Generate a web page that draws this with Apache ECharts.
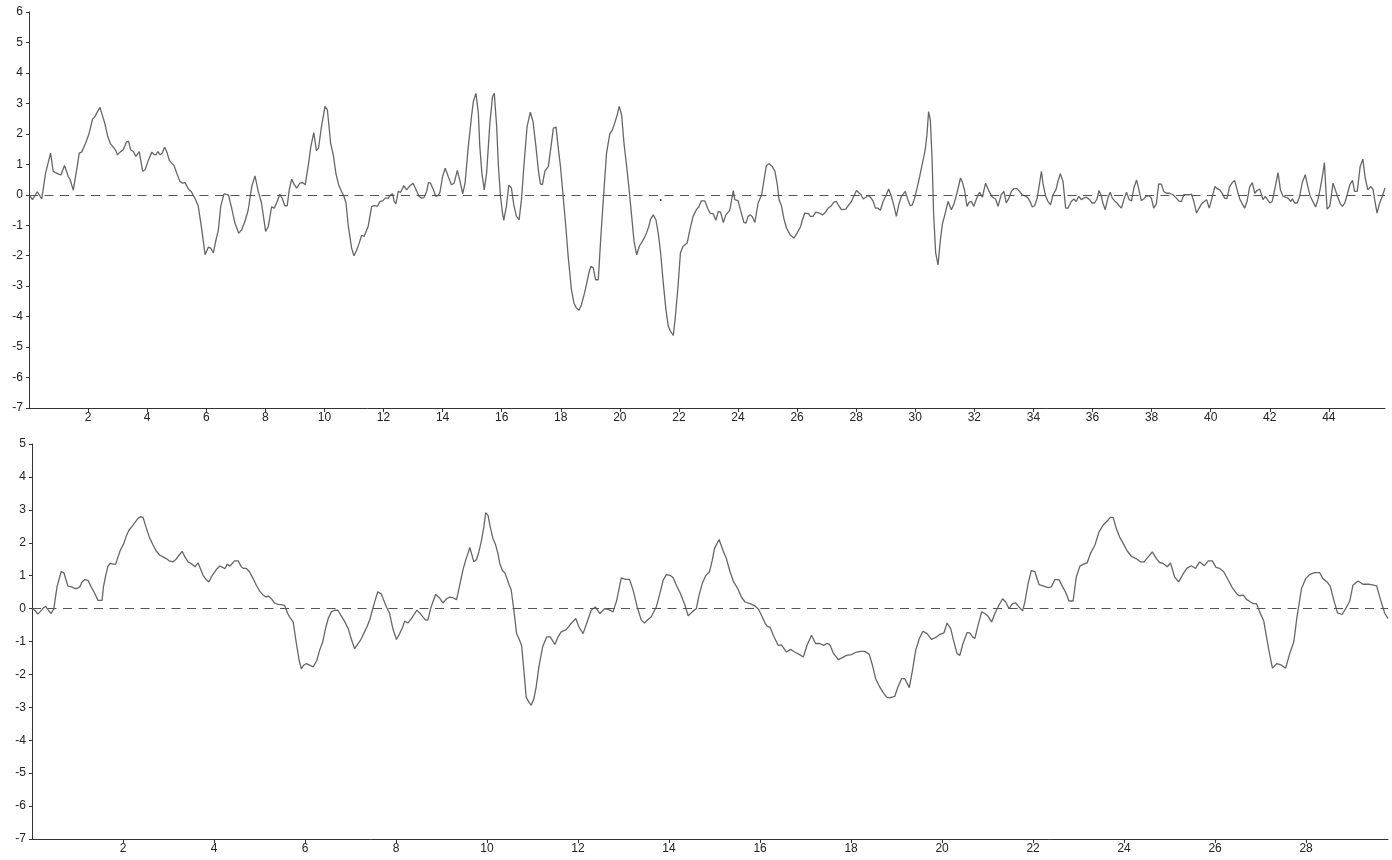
<!DOCTYPE html>
<html>
<head>
<meta charset="utf-8">
<script src="https://cdn.jsdelivr.net/npm/echarts@6/dist/echarts.min.js"></script>
<style>
html,body{margin:0;padding:0;background:#fff;}
#chart{width:1392px;height:860px;}
</style>
</head>
<body>
<div id="chart"></div>
<script>
const topX = [0,0.12,0.28,0.43,0.56,0.73,0.82,1.0,1.08,1.2,1.33,1.39,1.5,1.56,1.65,1.7,1.78,1.84,1.92,2.03,2.15,2.22,2.29,2.4,2.46,2.57,2.66,2.76,2.88,2.94,2.99,3.08,3.19,3.3,3.37,3.44,3.53,3.62,3.73,3.85,3.93,4.04,4.16,4.23,4.3,4.36,4.44,4.51,4.59,4.66,4.75,4.83,4.91,5.0,5.11,5.2,5.28,5.39,5.5,5.56,5.64,5.73,5.85,5.96,6.07,6.15,6.24,6.33,6.41,6.49,6.6,6.75,6.86,6.97,7.1,7.2,7.31,7.42,7.54,7.65,7.76,7.87,8.01,8.1,8.21,8.3,8.38,8.49,8.58,8.66,8.74,8.81,8.89,8.97,9.06,9.17,9.26,9.35,9.45,9.54,9.64,9.73,9.8,9.9,10.02,10.1,10.21,10.3,10.39,10.48,10.58,10.66,10.73,10.81,10.92,11.0,11.09,11.18,11.26,11.34,11.4,11.48,11.6,11.69,11.79,11.88,11.97,12.06,12.16,12.24,12.31,12.36,12.42,12.5,12.58,12.69,12.78,12.87,13.0,13.09,13.2,13.29,13.37,13.46,13.52,13.59,13.68,13.77,13.85,13.91,14.0,14.09,14.19,14.3,14.39,14.5,14.59,14.68,14.76,14.87,14.98,15.04,15.13,15.21,15.26,15.33,15.41,15.49,15.6,15.69,15.75,15.83,15.89,15.96,16.02,16.07,16.16,16.24,16.33,16.41,16.5,16.59,16.67,16.75,16.86,16.97,17.06,17.16,17.24,17.31,17.38,17.46,17.58,17.67,17.75,17.84,17.91,17.99,18.08,18.17,18.25,18.36,18.45,18.53,18.62,18.7,18.79,18.87,18.95,19.02,19.1,19.18,19.27,19.35,19.44,19.55,19.66,19.75,19.83,19.91,19.98,20.06,20.14,20.23,20.32,20.4,20.48,20.57,20.66,20.74,20.81,20.9,20.98,21.04,21.13,21.22,21.3,21.38,21.47,21.56,21.64,21.71,21.81,21.88,21.97,22.05,22.14,22.28,22.37,22.48,22.59,22.67,22.76,22.88,22.97,23.05,23.16,23.25,23.33,23.41,23.5,23.59,23.72,23.84,23.89,24.0,24.08,24.2,24.27,24.34,24.42,24.49,24.57,24.68,24.8,24.88,24.96,25.05,25.16,25.25,25.33,25.39,25.47,25.55,25.64,25.76,25.89,26.0,26.12,26.18,26.26,26.38,26.45,26.54,26.63,26.75,26.86,26.94,27.05,27.16,27.24,27.33,27.41,27.5,27.65,27.73,27.84,27.92,28.01,28.07,28.16,28.24,28.32,28.4,28.48,28.57,28.65,28.74,28.82,28.91,29.02,29.1,29.19,29.27,29.36,29.44,29.53,29.59,29.66,29.75,29.83,29.9,29.98,30.06,30.15,30.23,30.31,30.35,30.4,30.45,30.51,30.57,30.62,30.69,30.77,30.85,30.92,31.0,31.11,31.22,31.31,31.41,31.53,31.6,31.67,31.75,31.82,31.9,31.98,32.07,32.13,32.18,32.27,32.38,32.5,32.61,32.72,32.8,32.91,33.0,33.08,33.17,33.25,33.34,33.44,33.53,33.62,33.74,33.82,33.9,33.96,34.04,34.12,34.19,34.27,34.33,34.41,34.49,34.58,34.66,34.76,34.83,34.91,35.0,35.09,35.17,35.28,35.37,35.45,35.53,35.62,35.7,35.79,35.9,35.98,36.07,36.15,36.22,36.3,36.35,36.43,36.52,36.6,36.67,36.75,36.83,36.9,36.98,37.06,37.15,37.24,37.32,37.4,37.49,37.57,37.65,37.73,37.82,37.91,37.99,38.07,38.16,38.24,38.33,38.41,38.5,38.61,38.72,38.84,38.93,39.01,39.09,39.18,39.27,39.35,39.43,39.52,39.61,39.69,39.78,39.86,39.95,40.03,40.14,40.22,40.31,40.4,40.47,40.55,40.64,40.73,40.81,40.9,40.98,41.07,41.15,41.23,41.32,41.41,41.49,41.57,41.66,41.72,41.77,41.85,41.92,42.0,42.08,42.14,42.2,42.28,42.36,42.45,42.53,42.62,42.7,42.77,42.84,42.93,43.01,43.1,43.2,43.3,43.37,43.46,43.55,43.63,43.71,43.78,43.85,43.89,43.94,44.03,44.08,44.14,44.22,44.31,44.39,44.46,44.54,44.62,44.71,44.8,44.87,44.96,45.06,45.15,45.23,45.32,45.41,45.49,45.55,45.63,45.72,45.81,45.9];
const topY = [0,-0.16,0.1,-0.14,0.7,1.37,0.77,0.68,0.65,0.96,0.6,0.5,0.15,0.14,1.04,1.37,1.4,1.37,1.7,2.0,2.48,2.55,2.68,2.87,2.68,2.33,1.93,1.67,1.53,1.45,1.31,1.4,1.48,1.73,1.75,1.48,1.42,1.26,1.42,0.77,0.82,1.13,1.4,1.33,1.31,1.42,1.31,1.37,1.56,1.42,1.13,1.04,0.96,0.71,0.44,0.38,0.4,0.2,0.09,0.09,-0.16,-0.38,-1.15,-1.97,-1.72,-1.75,-1.91,-1.48,-1.15,-0.38,0.03,0,-0.44,-0.93,-1.26,-1.15,-0.87,-0.5,0.27,0.62,0.11,-0.27,-1.2,-1.04,-0.4,-0.44,-0.27,0.02,-0.14,-0.36,-0.36,0.16,0.51,0.35,0.22,0.38,0.4,0.33,0.93,1.58,2.04,1.45,1.53,2.24,2.9,2.79,1.69,1.31,0.69,0.33,0.11,-0.05,-0.27,-1.04,-1.75,-2.0,-1.82,-1.58,-1.33,-1.37,-1.39,-1.04,-0.38,-0.36,-0.38,-0.22,-0.2,-0.11,-0.11,0,0.03,-0.22,-0.3,0.11,0.08,0.3,0.16,0.27,0.38,0.19,-0.05,-0.11,-0.09,0.11,0.4,0.38,0.19,-0.05,-0.02,0.08,0.6,0.87,0.6,0.33,0.38,0.8,0.44,0.03,0.38,1.58,2.57,3.06,3.33,2.68,1.58,0.71,0.16,0.71,2.35,3.22,3.33,2.24,0.93,-0.05,-0.55,-0.84,-0.38,0.31,0.22,-0.33,-0.71,-0.82,-0.16,0.93,2.24,2.71,2.4,1.58,0.82,0.36,0.33,0.77,0.93,1.58,2.19,2.22,1.58,0.93,-0.05,-1.04,-2.02,-3.11,-3.57,-3.72,-3.79,-3.61,-3.28,-2.95,-2.57,-2.35,-2.4,-2.79,-2.79,-1.48,-0.16,1.37,2.0,2.13,2.37,2.62,2.9,2.62,1.69,0.93,0.11,-0.71,-1.53,-1.97,-1.69,-1.56,-1.45,-1.26,-1.04,-0.8,-0.66,-0.82,-1.26,-1.91,-2.9,-3.77,-4.32,-4.48,-4.62,-3.99,-3.0,-1.91,-1.69,-1.58,-1.15,-0.71,-0.49,-0.4,-0.2,-0.2,-0.44,-0.6,-0.62,-0.84,-0.55,-0.57,-0.91,-0.66,-0.51,0.14,-0.16,-0.19,-0.49,-0.91,-0.93,-0.71,-0.66,-0.73,-0.91,-0.27,0,0.49,0.96,1.02,0.93,0.77,0.33,-0.16,-0.36,-0.77,-1.09,-1.31,-1.42,-1.26,-1.04,-0.82,-0.6,-0.62,-0.71,-0.71,-0.57,-0.6,-0.66,-0.6,-0.44,-0.36,-0.25,-0.22,-0.36,-0.49,-0.47,-0.36,-0.22,-0.05,0.14,0.16,0,-0.14,-0.09,-0.02,-0.08,-0.2,-0.44,-0.44,-0.51,-0.22,0,0.19,-0.05,-0.33,-0.71,-0.33,-0.05,0,0.11,-0.16,-0.36,-0.33,-0.11,0.22,0.6,0.98,1.34,1.58,2.02,2.73,2.46,1.15,-0.6,-1.91,-2.3,-1.48,-0.95,-0.66,-0.22,-0.49,-0.3,0.05,0.55,0.4,0.14,-0.38,-0.25,-0.22,-0.38,-0.14,0,0.08,-0.08,0.38,0.11,-0.08,-0.14,-0.38,0,0.11,-0.27,-0.11,0.11,0.2,0.2,0.11,0,-0.05,-0.11,-0.25,-0.4,-0.36,-0.14,0.27,0.77,0.33,-0.03,-0.22,-0.33,0,0.16,0.44,0.69,0.44,-0.44,-0.44,-0.22,-0.14,-0.22,-0.05,-0.16,-0.11,-0.08,-0.16,-0.27,-0.27,-0.14,0.14,-0.05,-0.27,-0.49,-0.11,0.08,-0.11,-0.2,-0.27,-0.36,-0.44,-0.16,0.08,-0.16,-0.2,0.22,0.49,0.16,-0.19,-0.14,-0.05,-0.03,-0.11,-0.44,-0.3,0.36,0.35,0.11,0.05,0.05,0,-0.11,-0.22,-0.22,0,0,0,0.02,-0.22,-0.6,-0.44,-0.3,-0.22,-0.16,-0.44,-0.16,0.27,0.2,0.16,0.03,-0.11,-0.13,0.27,0.4,0.47,0.14,-0.13,-0.3,-0.44,-0.22,0.27,0.4,0.05,0.14,0.19,0.22,-0.16,-0.05,-0.16,-0.27,-0.22,0.05,0.33,0.73,0.16,-0.05,-0.08,-0.11,-0.22,-0.14,-0.27,-0.27,-0.05,0.4,0.66,0.22,-0.05,-0.22,-0.4,-0.16,0.22,0.6,1.06,0.33,-0.47,-0.38,-0.05,0.38,0.16,-0.11,-0.3,-0.38,-0.27,0,0.33,0.47,0.11,0.11,0.93,1.17,0.55,0.16,0.27,0.19,-0.16,-0.6,-0.27,-0.05,0.22];

const bottomX = [0,0.06,0.13,0.17,0.24,0.3,0.35,0.42,0.48,0.55,0.64,0.7,0.79,0.87,0.94,0.99,1.05,1.1,1.16,1.23,1.3,1.38,1.45,1.54,1.57,1.62,1.67,1.72,1.78,1.84,1.89,1.94,2.02,2.07,2.13,2.2,2.26,2.33,2.38,2.44,2.51,2.57,2.66,2.73,2.81,2.88,2.95,3.03,3.1,3.16,3.23,3.3,3.36,3.43,3.5,3.58,3.65,3.7,3.76,3.83,3.89,3.94,4.02,4.07,4.13,4.19,4.24,4.29,4.35,4.4,4.45,4.53,4.6,4.65,4.71,4.78,4.86,4.93,5.0,5.08,5.14,5.19,5.26,5.33,5.41,5.48,5.55,5.62,5.66,5.74,5.81,5.87,5.92,5.97,6.03,6.1,6.18,6.21,6.26,6.32,6.39,6.45,6.51,6.58,6.65,6.72,6.8,6.87,6.95,7.02,7.09,7.17,7.22,7.29,7.36,7.42,7.48,7.54,7.6,7.68,7.73,7.79,7.86,7.93,8.01,8.08,8.14,8.19,8.26,8.34,8.41,8.46,8.52,8.59,8.65,8.7,8.76,8.81,8.87,8.95,9.03,9.11,9.18,9.25,9.33,9.4,9.47,9.53,9.58,9.62,9.67,9.71,9.77,9.82,9.88,9.93,9.97,10.02,10.07,10.13,10.19,10.24,10.28,10.34,10.39,10.44,10.48,10.53,10.59,10.65,10.7,10.76,10.81,10.86,10.92,10.97,11.03,11.08,11.14,11.22,11.31,11.39,11.49,11.56,11.63,11.74,11.82,11.95,12.02,12.11,12.2,12.29,12.38,12.48,12.59,12.68,12.77,12.85,12.95,13.04,13.13,13.21,13.3,13.39,13.46,13.54,13.61,13.72,13.8,13.87,13.94,14.02,14.09,14.16,14.25,14.35,14.42,14.51,14.6,14.66,14.73,14.81,14.89,14.95,15.0,15.1,15.19,15.26,15.34,15.42,15.52,15.59,15.67,15.78,15.89,15.97,16.03,16.11,16.16,16.22,16.29,16.4,16.47,16.58,16.67,16.76,16.86,16.95,17.03,17.13,17.22,17.31,17.4,17.46,17.53,17.61,17.72,17.81,17.9,18.01,18.12,18.21,18.3,18.4,18.47,18.54,18.63,18.7,18.78,18.85,18.96,19.03,19.11,19.18,19.22,19.28,19.35,19.42,19.5,19.58,19.67,19.77,19.88,19.95,20.04,20.11,20.19,20.26,20.33,20.39,20.46,20.55,20.61,20.67,20.72,20.79,20.87,20.94,21.01,21.09,21.16,21.25,21.33,21.4,21.47,21.55,21.62,21.69,21.77,21.82,21.89,21.96,22.04,22.13,22.22,22.33,22.4,22.48,22.57,22.65,22.72,22.79,22.88,22.95,23.03,23.11,23.19,23.26,23.36,23.45,23.54,23.63,23.7,23.76,23.83,23.9,23.98,24.07,24.16,24.26,24.36,24.44,24.53,24.62,24.71,24.78,24.86,24.95,25.02,25.11,25.2,25.3,25.38,25.48,25.57,25.66,25.76,25.85,25.94,26.02,26.1,26.19,26.29,26.38,26.47,26.53,26.62,26.69,26.78,26.84,26.91,26.98,27.07,27.13,27.19,27.26,27.36,27.46,27.55,27.64,27.73,27.8,27.9,27.99,28.08,28.19,28.3,28.37,28.46,28.53,28.61,28.69,28.79,28.87,28.96,29.03,29.14,29.25,29.37,29.48,29.55,29.64,29.73,29.8];
const bottomY = [0,-0.05,-0.17,-0.15,0,0.07,-0.03,-0.15,0,0.66,1.12,1.09,0.68,0.66,0.61,0.61,0.66,0.81,0.88,0.86,0.66,0.46,0.25,0.25,0.66,1.01,1.29,1.37,1.35,1.35,1.57,1.77,1.98,2.2,2.38,2.5,2.61,2.74,2.79,2.77,2.46,2.2,1.93,1.75,1.62,1.57,1.52,1.44,1.42,1.49,1.62,1.74,1.57,1.42,1.37,1.27,1.39,1.22,1.01,0.88,0.81,0.96,1.12,1.22,1.29,1.25,1.21,1.35,1.29,1.37,1.45,1.45,1.27,1.22,1.22,1.12,0.91,0.71,0.54,0.41,0.35,0.38,0.3,0.17,0.13,0.12,0.1,-0.15,-0.25,-0.41,-1.06,-1.57,-1.83,-1.72,-1.67,-1.72,-1.77,-1.8,-1.57,-1.27,-1.01,-0.61,-0.3,-0.1,-0.05,-0.05,-0.23,-0.39,-0.61,-0.94,-1.22,-1.06,-0.96,-0.76,-0.56,-0.35,-0.05,0.25,0.51,0.44,0.25,0.05,-0.15,-0.61,-0.94,-0.76,-0.58,-0.38,-0.44,-0.3,-0.15,-0.05,-0.13,-0.25,-0.35,-0.35,0,0.2,0.43,0.33,0.17,0.3,0.35,0.33,0.27,0.71,1.17,1.47,1.67,1.86,1.62,1.42,1.49,1.72,2.08,2.48,2.91,2.84,2.48,2.13,1.93,1.67,1.37,1.15,1.09,0.91,0.74,0.58,-0.05,-0.76,-0.91,-1.12,-1.88,-2.69,-2.84,-2.94,-2.74,-2.38,-1.77,-1.17,-0.86,-0.86,-1.09,-0.86,-0.71,-0.64,-0.5,-0.3,-0.56,-0.76,-0.41,-0.05,0.05,-0.15,0,-0.03,-0.1,0.25,0.93,0.89,0.89,0.56,0.05,-0.35,-0.44,-0.33,-0.25,0.05,0.46,0.86,1.03,1.01,0.94,0.71,0.46,0.1,-0.22,-0.1,0,0.41,0.76,1.01,1.12,1.47,1.83,2.1,1.75,1.52,1.12,0.81,0.58,0.35,0.2,0.15,0.08,-0.03,-0.2,-0.44,-0.54,-0.56,-0.81,-1.12,-1.1,-1.32,-1.24,-1.32,-1.39,-1.47,-1.12,-0.81,-1.06,-1.06,-1.12,-1.06,-1.09,-1.35,-1.55,-1.49,-1.42,-1.4,-1.32,-1.3,-1.3,-1.39,-1.72,-2.13,-2.38,-2.54,-2.69,-2.71,-2.67,-2.38,-2.13,-2.13,-2.18,-2.4,-1.88,-1.27,-0.91,-0.69,-0.76,-0.94,-0.86,-0.78,-0.74,-0.44,-0.61,-1.01,-1.37,-1.42,-1.06,-0.73,-0.74,-0.86,-0.91,-0.51,-0.1,-0.15,-0.23,-0.41,-0.15,0.1,0.3,0.2,0,0.15,0.17,0.05,-0.07,0.2,0.76,1.15,1.12,0.73,0.69,0.64,0.66,0.88,0.88,0.66,0.48,0.23,0.23,0.96,1.29,1.35,1.39,1.67,1.93,2.33,2.54,2.66,2.77,2.77,2.43,2.18,1.98,1.75,1.59,1.52,1.42,1.42,1.57,1.72,1.52,1.4,1.37,1.27,1.39,0.96,0.81,1.06,1.22,1.3,1.22,1.42,1.3,1.45,1.45,1.25,1.22,1.12,0.86,0.63,0.46,0.39,0.41,0.28,0.2,0.15,0.15,-0.1,-0.38,-0.86,-1.32,-1.81,-1.67,-1.72,-1.81,-1.37,-1.01,-0.25,0.61,0.91,1.04,1.09,1.09,0.91,0.81,0.68,0.25,-0.13,-0.18,0,0.23,0.71,0.84,0.74,0.74,0.71,0.69,0.25,-0.15,-0.3];

const topXTicks = [2,4,6,8,10,12,14,16,18,20,22,24,26,28,30,32,34,36,38,40,42,44];
const bottomXTicks = [2,4,6,8,10,12,14,16,18,20,22,24,26,28];
const strayDot = [[21.38, -0.17]];

function pairs(xs, ys){ return xs.map((x,i)=>[x, ys[i]]); }

const axisColor = '#333';
const textStyle = {color:'#222', fontSize:12, fontFamily:'"Liberation Sans", Arial, sans-serif'};

function xAxisCfg(gridIndex, maxV, ticks){
  return {
    type:'value', gridIndex, min:0, max:maxV, interval:2,
    axisLine:{show:true, onZero:false, lineStyle:{color:axisColor, width:1}},
    axisTick:{show:true, length:4, customValues:ticks, lineStyle:{color:axisColor}},
    axisLabel:Object.assign({margin:4, customValues:ticks}, textStyle),
    splitLine:{show:false}
  };
}
function yAxisCfg(gridIndex, minV, maxV){
  return {
    type:'value', gridIndex, min:minV, max:maxV, interval:1,
    axisLine:{show:true, lineStyle:{color:axisColor, width:1}},
    axisTick:{show:true, length:3, lineStyle:{color:axisColor}},
    axisLabel:Object.assign({margin:6}, textStyle),
    splitLine:{show:false}
  };
}
const zeroLine = {
  silent:true, symbol:['none','none'], label:{show:false},
  lineStyle:{type:[9,6.5], color:'#555', width:1},
  data:[{yAxis:0}]
};

const chart = echarts.init(document.getElementById('chart'), null, {renderer:'canvas'});
chart.setOption({
  backgroundColor:'#fff',
  animation:false,
  grid:[
    {left:29, right:7, top:12, height:396},
    {left:32, right:4, top:444, height:395}
  ],
  xAxis:[ xAxisCfg(0, 45.9, topXTicks), xAxisCfg(1, 29.8, bottomXTicks) ],
  yAxis:[ yAxisCfg(0, -7, 6), yAxisCfg(1, -7, 5) ],
  series:[
    {type:'line', xAxisIndex:0, yAxisIndex:0, data:pairs(topX, topY), showSymbol:false,
     lineStyle:{color:'#666', width:1.3}, itemStyle:{color:'#666'}, markLine:zeroLine},
    {type:'line', xAxisIndex:1, yAxisIndex:1, data:pairs(bottomX, bottomY), showSymbol:false,
     lineStyle:{color:'#666', width:1.3}, itemStyle:{color:'#666'}, markLine:zeroLine},
    {type:'scatter', xAxisIndex:0, yAxisIndex:0, data:strayDot, symbolSize:2, itemStyle:{color:'#000'}, silent:true}
  ]
});
</script>
</body>
</html>
